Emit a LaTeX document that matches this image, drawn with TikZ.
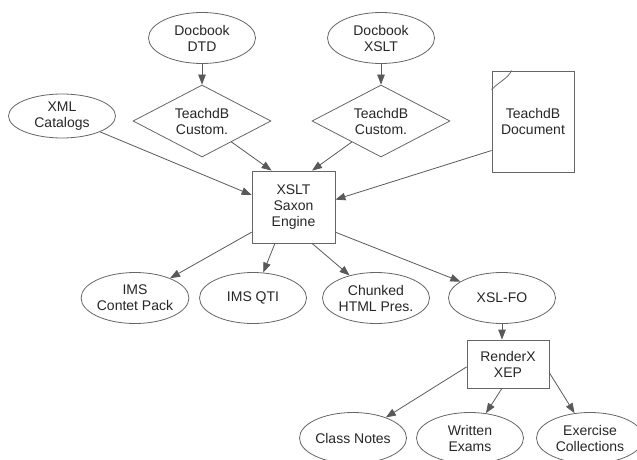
\documentclass[tikz,border=0pt]{standalone}
\usepackage{fontspec}
\setmainfont{Liberation Sans}
\usetikzlibrary{shapes.geometric,arrows.meta,calc}

\tikzset{
  base/.style={draw=black!60, line width=0.8pt, text=black!85, align=center,
    font=\fontsize{14}{16}\selectfont, inner sep=0pt},
  oval/.style={base, ellipse, minimum width=107pt, minimum height=51pt},
  choice/.style={base, diamond, shape aspect=2, minimum width=138pt, minimum height=72pt},
  proc/.style={base, rectangle},
  doc/.style={base, rectangle, minimum width=82pt, minimum height=101pt},
  flow/.style={draw=black!65, line width=0.8pt, -{Triangle[length=10pt,width=7.5pt]}}
}

\begin{document}
\begin{tikzpicture}[x=1pt, y=-1pt]
  \useasboundingbox (0,0) rectangle (637,460);

  % sources
  \node[oval] (dtd)  at (202,38) {Docbook\\DTD};
  \node[oval] (xsl)  at (381,38) {Docbook\\XSLT};
  \node[choice] (cust1) at (202,121) {TeachdB\\Custom.};
  \node[choice] (cust2) at (381,121) {TeachdB\\Custom.};
  \node[oval, minimum height=44pt] (cat) at (62,116) {XML\\Catalogs};
  \node[doc] (tdoc) at (533,121.5) {TeachdB\\Document};
  \draw[draw=black!60, line width=0.8pt]
    ($(tdoc.north west)+(0,19)$) .. controls ($(tdoc.north west)+(9,10)$) and ($(tdoc.north west)+(16,8)$) .. ($(tdoc.north west)+(20,0)$);

  % processor
  \node[proc, minimum width=83pt, minimum height=72pt] (saxon) at (293.5,207) {XSLT\\Saxon\\Engine};

  % outputs
  \node[oval] (pack)  at (135,298) {IMS\\Contet Pack};
  \node[oval] (qti)   at (253,298) {IMS QTI};
  \node[oval] (html)  at (376,298) {Chunked\\HTML Pres.};
  \node[oval] (fo)    at (502,298) {XSL-FO};
  \node[proc, minimum width=82pt, minimum height=48pt] (xep) at (508,364) {RenderX\\XEP};
  \node[oval] (notes) at (353,438) {Class Notes};
  \node[oval] (exams) at (470,438) {Written\\Exams};
  \node[oval] (coll)  at (590,438) {Exercise\\Collections};

  % connectors
  \draw[flow] (dtd) -- (cust1);
  \draw[flow] (xsl) -- (cust2);
  \draw[flow] (cust1) -- (saxon.121);
  \draw[flow] (cust2) -- (saxon.63);
  \draw[flow] (cat) -- (saxon.164);
  \draw[flow] (tdoc.215) -- (saxon.10);

  \draw[flow] (saxon.211) -- (pack);
  \draw[flow] (saxon.243) -- (qti);
  \draw[flow] (saxon.297) -- (html);
  \draw[flow] (saxon.329) -- (fo);

  \draw[flow] (fo.south) -- (fo.south |- xep.north);
  \draw[flow] (xep.184) -- (notes);
  \draw[flow] (xep.256) -- (exams);
  \draw[flow] (xep.348) -- (coll);
\end{tikzpicture}
\end{document}
